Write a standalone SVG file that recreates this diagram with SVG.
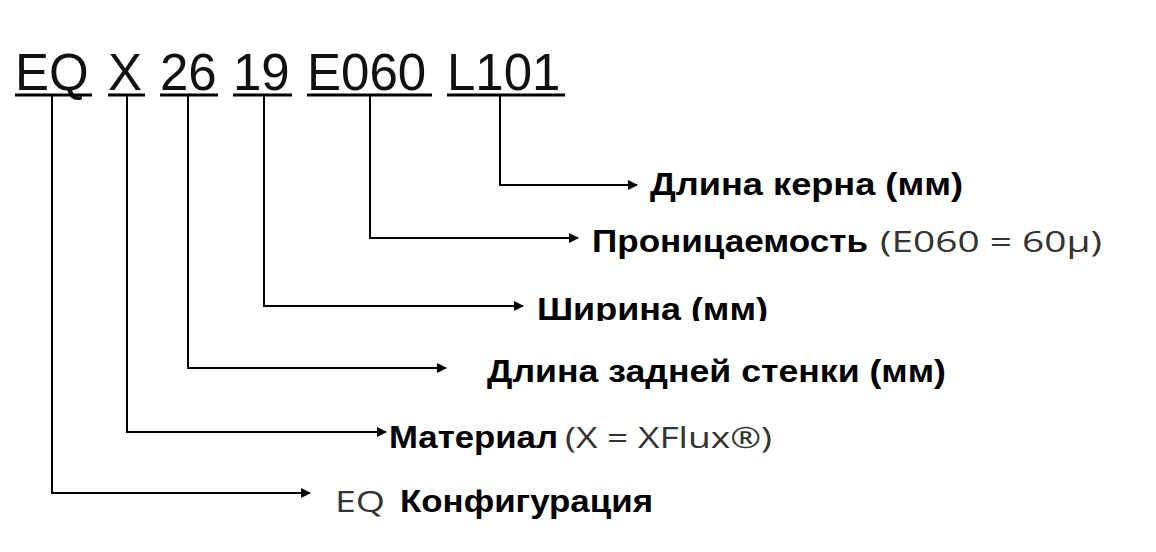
<svg xmlns="http://www.w3.org/2000/svg" width="1156" height="552" viewBox="0 0 1156 552">
<defs>
<marker id="ah" markerWidth="10" markerHeight="10" refX="9" refY="5" orient="auto" markerUnits="userSpaceOnUse"><path d="M0,0 L10,5 L0,10 Z" fill="#000"/></marker>
<clipPath id="cw"><rect x="0" y="0" width="1156" height="321"/></clipPath>
</defs>
<style>
.code{font-family:"Liberation Sans",Arial,sans-serif;font-size:51px;fill:#111}
.b{font-family:"Liberation Sans",Arial,sans-serif;font-weight:bold;font-size:31px;fill:#000}
.n{font-family:"Open Sans","Liberation Sans",sans-serif;font-size:30px;fill:#333}
.ul{stroke:#000;stroke-width:3}
.c{fill:none;stroke:#000;stroke-width:2}
</style>
<rect width="1156" height="552" fill="#fff"/>
<g id="code">
<text class="code" x="15" y="90">EQ</text>
<text class="code" x="108" y="90">X</text>
<text class="code" x="160" y="90">26</text>
<text class="code" x="233" y="90">19</text>
<text class="code" x="307" y="90">E060</text>
<text class="code" x="447" y="90">L101</text>
<line class="ul" x1="15" y1="95" x2="92" y2="95"/>
<line class="ul" x1="108" y1="95" x2="145" y2="95"/>
<line class="ul" x1="160" y1="95" x2="218" y2="95"/>
<line class="ul" x1="233" y1="95" x2="292" y2="95"/>
<line class="ul" x1="307" y1="95" x2="432" y2="95"/>
<line class="ul" x1="447" y1="95" x2="565" y2="95"/>
</g>
<g id="connectors">
<path class="c" d="M52,95 V493 H310" marker-end="url(#ah)"/>
<path class="c" d="M127,95 V432 H386" marker-end="url(#ah)"/>
<path class="c" d="M188,95 V368 H446" marker-end="url(#ah)"/>
<path class="c" d="M264,95 V306 H523" marker-end="url(#ah)"/>
<path class="c" d="M370,95 V238 H578" marker-end="url(#ah)"/>
<path class="c" d="M500,95 V185 H637" marker-end="url(#ah)"/>
</g>
<g id="l1"><text class="b" x="650" y="195" textLength="313" lengthAdjust="spacingAndGlyphs">Длина керна (мм)</text></g>
<g id="l2"><text class="b" x="592" y="252" textLength="276" lengthAdjust="spacingAndGlyphs">Проницаемость</text><text class="n" x="880" y="252" textLength="222" lengthAdjust="spacingAndGlyphs">(E060 = 60μ)</text></g>
<g id="l3" clip-path="url(#cw)"><text class="b" x="537" y="320" textLength="231" lengthAdjust="spacingAndGlyphs">Ширина (мм)</text></g>
<g id="l4"><text class="b" x="487" y="382" textLength="459" lengthAdjust="spacingAndGlyphs">Длина задней стенки (мм)</text></g>
<g id="l5"><text class="b" x="389" y="448" textLength="169" lengthAdjust="spacingAndGlyphs">Материал</text><text class="n" x="565" y="448" textLength="207" lengthAdjust="spacingAndGlyphs">(X = XFlux®)</text></g>
<g id="l6"><text class="n" x="335" y="512" textLength="50" lengthAdjust="spacingAndGlyphs">EQ</text><text class="b" x="400" y="512" textLength="253" lengthAdjust="spacingAndGlyphs">Конфигурация</text></g>
</svg>
